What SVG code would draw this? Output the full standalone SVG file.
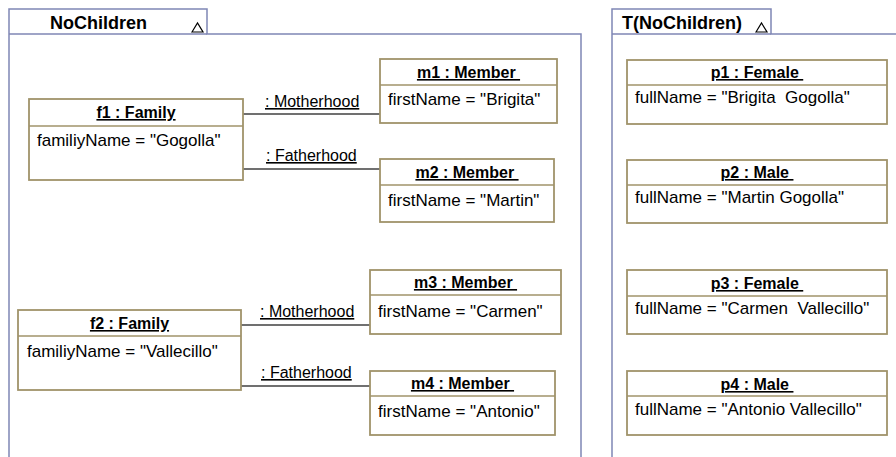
<svg xmlns="http://www.w3.org/2000/svg" width="896" height="457" viewBox="0 0 896 457">
<style>
.pkg{fill:#ffffff;stroke:#7f86b5;stroke-width:1.5}
.box{fill:#ffffff;stroke:#a0936a;stroke-width:1.8}
.div{stroke:#a0936a;stroke-width:1.5}
.tab{font-family:"Liberation Sans",Arial,sans-serif;font-size:18px;font-weight:bold;fill:#000}
.ttl{font-family:"Liberation Sans",Arial,sans-serif;font-size:16px;font-weight:bold;fill:#000;text-anchor:middle;text-decoration:underline}
.att{font-family:"Liberation Sans",Arial,sans-serif;font-size:17px;fill:#000}
.lbl{font-family:"Liberation Sans",Arial,sans-serif;font-size:16px;fill:#000;text-decoration:underline}
.con{stroke:#404040;stroke-width:1.5;fill:none}
.tri{fill:none;stroke:#000;stroke-width:1.2}
</style>
<rect width="896" height="457" fill="#ffffff"/>
<g id="pkg-NoChildren">
<path class="pkg" d="M9,470 L9,9 L207,9 L207,34 L581,34 L581,470 Z"/>
<line class="pkg" x1="9" y1="34" x2="207" y2="34"/>
<text class="tab" x="50" y="29">NoChildren</text>
<polygon class="tri" points="192,32 197.5,23 203,32"/>
</g>
<g id="pkg-TNoChildren">
<path class="pkg" d="M612,470 L612,9 L771,9 L771,34 L900,34"/>
<line class="pkg" x1="612" y1="34" x2="771" y2="34"/>
<text class="tab" x="622" y="29">T(NoChildren)</text>
<polygon class="tri" points="756,32 761.5,23 767,32"/>
</g>
<g id="connectors">
<line class="con" x1="243" y1="114" x2="380" y2="114"/>
<text class="lbl" x="265" y="107">: Motherhood</text>
<line class="con" x1="243" y1="169" x2="380" y2="169"/>
<text class="lbl" x="266" y="161">: Fatherhood</text>
<line class="con" x1="241" y1="325" x2="370" y2="325"/>
<text class="lbl" x="260" y="317">: Motherhood</text>
<line class="con" x1="241" y1="386" x2="370" y2="386"/>
<text class="lbl" x="261" y="378">: Fatherhood</text>
</g>
<g id="f1">
<rect class="box" x="29" y="99" width="214" height="81"/>
<line class="div" x1="29" y1="126" x2="243" y2="126"/>
<text class="ttl" x="136" y="118">f1 : Family</text>
<text class="att" x="37" y="146">familiyName = "Gogolla"</text>
</g>
<g id="f2">
<rect class="box" x="18" y="310" width="223" height="80"/>
<line class="div" x1="18" y1="336" x2="241" y2="336"/>
<text class="ttl" x="129.5" y="329">f2 : Family</text>
<text class="att" x="27" y="357">familiyName = "Vallecillo"</text>
</g>
<g id="m1">
<rect class="box" x="380" y="59" width="177" height="64"/>
<line class="div" x1="380" y1="85" x2="557" y2="85"/>
<text class="ttl" x="468.5" y="78" xml:space="preserve">m1 : Member </text>
<text class="att" x="388" y="105">firstName = "Brigita"</text>
</g>
<g id="m2">
<rect class="box" x="380" y="159" width="174" height="63"/>
<line class="div" x1="380" y1="185" x2="554" y2="185"/>
<text class="ttl" x="467" y="178" xml:space="preserve">m2 : Member </text>
<text class="att" x="388" y="206">firstName = "Martin"</text>
</g>
<g id="m3">
<rect class="box" x="370" y="270" width="191" height="64"/>
<line class="div" x1="370" y1="295" x2="561" y2="295"/>
<text class="ttl" x="465.5" y="288" xml:space="preserve">m3 : Member </text>
<text class="att" x="378" y="317">firstName = "Carmen"</text>
</g>
<g id="m4">
<rect class="box" x="370" y="371" width="185" height="64"/>
<line class="div" x1="370" y1="396" x2="555" y2="396"/>
<text class="ttl" x="462.5" y="389" xml:space="preserve">m4 : Member </text>
<text class="att" x="378" y="417">firstName = "Antonio"</text>
</g>
<g id="p1">
<rect class="box" x="627" y="60" width="260" height="64"/>
<line class="div" x1="627" y1="85" x2="887" y2="85"/>
<text class="ttl" x="757" y="78" xml:space="preserve">p1 : Female </text>
<text class="att" x="635" y="103" xml:space="preserve">fullName = "Brigita  Gogolla"</text>
</g>
<g id="p2">
<rect class="box" x="627" y="160" width="260" height="63"/>
<line class="div" x1="627" y1="185" x2="887" y2="185"/>
<text class="ttl" x="757" y="178" xml:space="preserve">p2 : Male </text>
<text class="att" x="635" y="203" xml:space="preserve">fullName = "Martin Gogolla"</text>
</g>
<g id="p3">
<rect class="box" x="627" y="270" width="260" height="64"/>
<line class="div" x1="627" y1="296" x2="887" y2="296"/>
<text class="ttl" x="757" y="289" xml:space="preserve">p3 : Female </text>
<text class="att" x="635" y="314" xml:space="preserve">fullName = "Carmen  Vallecillo"</text>
</g>
<g id="p4">
<rect class="box" x="627" y="371" width="260" height="64"/>
<line class="div" x1="627" y1="396" x2="887" y2="396"/>
<text class="ttl" x="757" y="390" xml:space="preserve">p4 : Male </text>
<text class="att" x="635" y="415" xml:space="preserve">fullName = "Antonio Vallecillo"</text>
</g>
</svg>
